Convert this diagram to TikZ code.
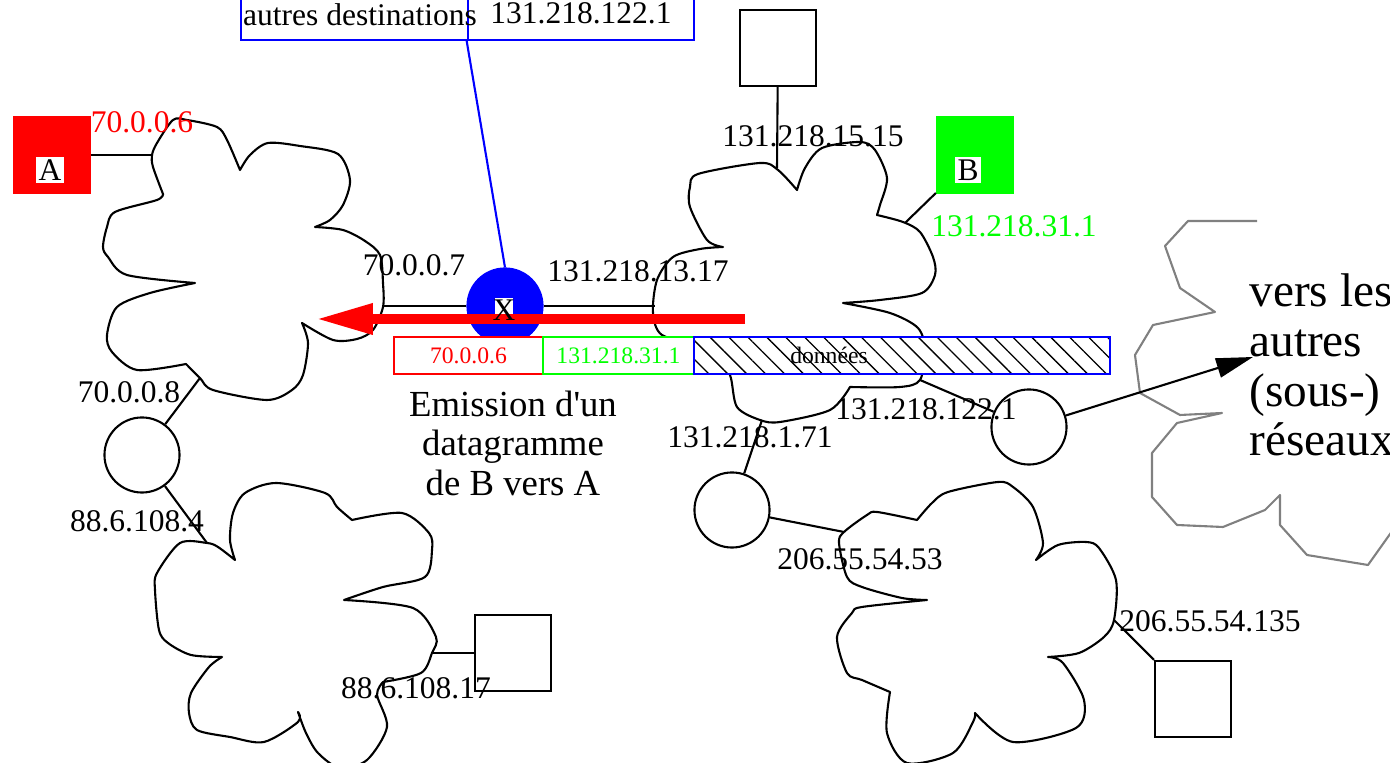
\documentclass[tikz,border=0pt]{standalone}
\usepackage{fontspec}
\setmainfont{Liberation Serif}
\usetikzlibrary{arrows.meta,patterns.meta}

\tikzset{
  nuage/.style={line width=0.8pt,line join=round},
  lien/.style={line width=0.8pt},
  hote/.style={draw,line width=0.8pt,minimum size=29pt,inner sep=0pt,fill=white},
  routeur/.style={circle,draw,line width=0.8pt,minimum size=28.6pt,inner sep=0pt,fill=white},
  adr/.style={font=\fontsize{12}{14}\selectfont,inner sep=0pt},
  petit/.style={font=\fontsize{9}{10}\selectfont,inner sep=0pt},
  champ/.style={draw,line width=0.8pt,minimum height=14.1pt,inner sep=0pt,font=\fontsize{9}{10}\selectfont},
  cellule/.style={draw=blue,line width=0.8pt,minimum width=86.3pt,minimum height=18.3pt,inner sep=0pt},
}

\begin{document}
\begin{tikzpicture}[x=0.381pt,y=-0.381pt]
  \useasboundingbox (0,0) rectangle (1390,763);
  \clip (0,0) rectangle (1390,763);
%
  \draw [nuage]
    plot [smooth] coordinates {(240,170) (250,155) (268,143) (300,146) (338,154) (350,180) (343,205) (330,220) (315,227)}
    -- plot [smooth] coordinates {(315,227) (343,230) (365,241) (380,255) (383,283) (383,307) (373,330) (357,339) (333,340) (302,323)}
    -- plot [smooth] coordinates {(302,323) (308,343) (303,375) (292,390) (267,400) (213,390) (200,378) (186,364)}
    -- plot [smooth] coordinates {(186,364) (137,370) (112,352) (107,335) (117,307) (150,293) (195,283)}
    -- plot [smooth] coordinates {(195,283) (127,275) (108,257) (103,247) (107,227) (115,212) (157,200) (163,194)}
    -- plot [smooth] coordinates {(163,194) (153,167) (152,155) (157,143) (173,120) (187,120) (217,127) (227,140) (240,170)}
    -- cycle ;
%
  \draw [nuage]
    plot [smooth] coordinates {(723,247) (707,240) (690,207) (690,187) (698,174) (760,163) (778,170) (797,190)}
    -- plot [smooth] coordinates {(797,190) (805,168) (822,148) (860,142) (875,150) (887,178) (880,205) (877,215)}
    -- plot [smooth] coordinates {(877,215) (903,222) (920,232) (933,257) (935,275) (922,293) (880,300) (843,303)}
    -- plot [smooth] coordinates {(843,303) (890,313) (918,328) (925,350) (920,380) (900,387) (850,387)}
    -- plot [smooth] coordinates {(850,387) (830,410) (780,422) (760,420) (737,407) (730,375) (715,352) (700,345)}
    -- plot [smooth] coordinates {(700,345) (662,335) (653,313) (657,280) (673,257) (700,249) (723,247)}
    -- cycle ;
%
  \draw [nuage]
    plot [smooth] coordinates {(235,560) (230,540) (233,513) (245,493) (276,483) (325,493) (337,507) (352,520)}
    -- plot [smooth] coordinates {(352,520) (402,513) (429,533) (432,550) (425,577) (383,587) (344,600)}
    -- plot [smooth] coordinates {(344,600) (413,608) (436,637) (432,653) (421,673) (383,682)}
    -- plot [smooth] coordinates {(383,682) (377,695) (387,727) (367,760) (340,768) (318,753) (306,733) (298,712)}
    -- plot [smooth] coordinates {(298,712) (298,722) (264,742) (230,737) (197,730) (189,713) (191,693) (209,667) (222,657)}
    -- plot [smooth] coordinates {(222,657) (191,655) (168,643) (159,630) (155,590) (157,573) (180,543) (207,543) (218,547) (235,560)}
    -- cycle ;
%
  \draw [nuage]
    plot [smooth] coordinates {(917,520) (932,503) (948,492) (998,482) (1013,487) (1033,507) (1043,543) (1036,560)}
    -- plot [smooth] coordinates {(1036,560) (1058,545) (1086,542) (1099,548) (1116,580) (1114,620) (1104,637) (1079,653) (1048,657)}
    -- plot [smooth] coordinates {(1048,657) (1063,663) (1084,700) (1076,728) (1013,742) (975,713)}
    -- plot [smooth] coordinates {(975,713) (973,722) (953,753) (907,763) (887,733) (890,692)}
    -- plot [smooth] coordinates {(890,692) (862,680) (847,673) (837,637) (852,613) (862,607) (927,600)}
    -- plot [smooth] coordinates {(927,600) (902,598) (862,587) (847,577) (839,543) (844,532) (867,515) (877,512) (917,520)}
    -- cycle ;
%
  \draw [gray,line width=0.8pt,line join=round] (1257,221) -- (1188,221) -- (1165,246) -- (1180,288)
    -- (1215,312) -- (1153,325) -- (1135,355) -- (1140,393) -- (1180,415) -- (1222,413) -- (1177,423)
    -- (1152,453) -- (1152,497) -- (1177,525) -- (1223,527) -- (1265,510) -- (1280,495) -- (1280,525)
    -- (1307,555) -- (1368,565) -- (1400,520) ;
%
  \coordinate (n1a) at (152,155) ;
  \coordinate (n1r) at (383,306) ;
  \coordinate (n1s) at (200,378) ;
  \coordinate (n2h) at (777,168) ;
  \coordinate (n2b) at (905,223) ;
  \coordinate (n2r) at (655,306) ;
  \coordinate (n2s) at (762,420) ;
  \coordinate (n2e) at (920,380) ;
  \coordinate (n3n) at (207,543) ;
  \coordinate (n3h) at (432,653) ;
  \coordinate (n4w) at (844,532) ;
  \coordinate (n4h) at (1114,620) ;
%
  \node [hote,draw=red,fill=red] (hA) at (52,155) {} ;
  \node [hote,draw=green,fill=green] (hB) at (975,155) {} ;
  \node [hote] (h1) at (778,48) {} ;
  \node [hote] (h2) at (513,653) {} ;
  \node [hote] (h3) at (1193,699) {} ;
  \node [adr,fill=white,inner sep=1pt] (lA) at (50,170) {A} ;
  \node [adr,fill=white,inner sep=1pt] (lB) at (968,170) {B} ;
%
  \node [routeur] (r1) at (142,455) {} ;
  \node [routeur,draw=blue,fill=blue] (r2) at (505,306) {} ;
  \node [routeur] (r3) at (732,510) {} ;
  \node [routeur] (r4) at (1029,427) {} ;
  \node [fill=white,inner sep=0pt,minimum width=6.6pt,minimum height=9.5pt] (x) at (504,310) {} ;
%
  \draw [lien] (hA) -- (n1a) ;
  \draw [lien] (hB) -- (n2b) ;
  \draw [lien] (h1) -- (n2h) ;
  \draw [lien] (n3h) -- (h2) ;
  \draw [lien] (n4h) -- (h3) ;
  \draw [lien] (r2) -- (n1r) ;
  \draw [lien] (r2) -- (n2r) ;
  \draw [lien] (r1) -- (n1s) ;
  \draw [lien] (r1) -- (n3n) ;
  \draw [lien] (r3) -- (n2s) ;
  \draw [lien] (r3) -- (n4w) ;
  \draw [lien] (r4) -- (n2e) ;
%
  \node [cellule] (autres) at (354.5,16) {} ;
  \node [cellule] (passerelle) at (581,16) {} ;
  \node [adr] (tautres) at (360,15) {autres destinations} ;
  \node [adr] (tpasserelle) at (581,13) {131.218.122.1} ;
  \draw [blue,line width=0.8pt] (passerelle.south west) -- (r2.north) ;
%
  \node [adr,text=red] (a1) at (142,122) {70.0.0.6} ;
  \node [adr] (a2) at (813,136) {131.218.15.15} ;
  \node [adr,text=green] (a3) at (1014,226) {131.218.31.1} ;
  \node [adr] (a4) at (414,265) {70.0.0.7} ;
  \node [adr] (a5) at (638,271) {131.218.13.17} ;
  \node [adr] (a6) at (129,392) {70.0.0.8} ;
  \node [adr] (a7) at (926,409) {131.218.122.1} ;
  \node [adr] (a8) at (750,437) {131.218.1.71} ;
  \node [adr] (a9) at (137,521) {88.6.108.4} ;
  \node [adr] (a10) at (860,559) {206.55.54.53} ;
  \node [adr] (a11) at (1210,621) {206.55.54.135} ;
  \node [adr] (a12) at (416,688) {88.6.108.17} ;
%
  \coordinate (queue) at (745,319) ;
  \coordinate (pointe) at (316,319) ;
  \draw [red,line width=3.8pt,-{Triangle[length=21.7pt,width=11pt]}] (queue) -- (pointe) ;
  \node [adr] (tx) at (x.center) {X} ;
%
  \node [champ,draw=red,fill=white,text=red,minimum width=56.8pt] (dst) at (468.5,355.5) {70.0.0.6} ;
  \node [champ,draw=green,fill=white,text=green,minimum width=57.5pt] (src) at (618.5,355.5) {131.218.31.1} ;
  \node [champ,draw=blue,minimum width=158.5pt,preaction={fill=white},
         pattern={Lines[angle=-45,distance=5.1pt,line width=0.5pt]}] (data) at (902,355.5) {} ;
  \node [petit] (donnees) at (829,355) {données} ;
%
  \node [font=\fontsize{14}{15.2}\selectfont,align=center,anchor=north,inner sep=0pt] (legende)
    at (513,390) {Emission d\textquotesingle un\\datagramme\\de B vers A} ;
%
  \node [font=\fontsize{18}{19}\selectfont,align=left,anchor=north west,inner sep=0pt] (ailleurs)
    at (1249,273) {vers les\\autres\\(sous-)\\réseaux} ;
  \coordinate (vers) at (1253,357) ;
  \draw [lien,-{Triangle[length=14pt,width=7.5pt]}] (r4) -- (vers) ;
%
\end{tikzpicture}
\end{document}
